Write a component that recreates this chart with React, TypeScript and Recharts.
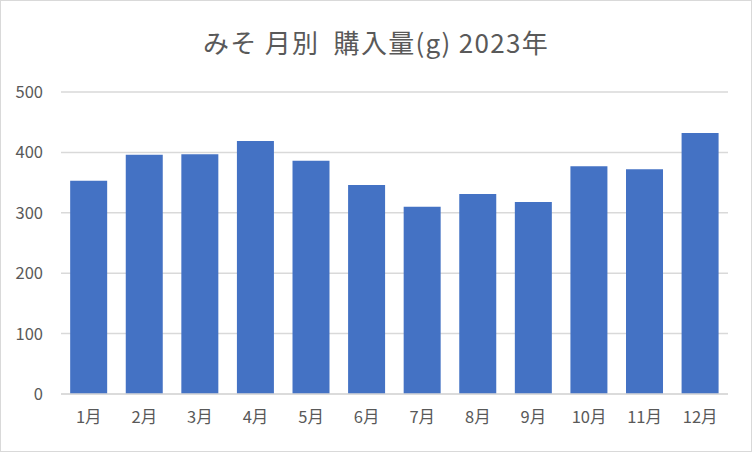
import React from 'react';
import { BarChart, Bar, XAxis, YAxis, CartesianGrid } from 'recharts';

const months = ['1月', '2月', '3月', '4月', '5月', '6月', '7月', '8月', '9月', '10月', '11月', '12月'];
const amounts = [353, 396, 397, 419, 386, 346, 310, 331, 318, 377, 372, 432];
const yTicks = [0, 100, 200, 300, 400, 500];

const data = months.map((m, i) => ({ month: m, value: amounts[i] }));

const FONT = '"Noto Sans CJK JP", "Noto Sans", sans-serif';

const XTick = (props: any) => {
  const { x, y, payload } = props;
  return (
    <text x={x} y={y + 27} textAnchor="middle" fill="#595959" fontSize={16.5} fontFamily={FONT}>
      {payload.value}
    </text>
  );
};

const YTick = (props: any) => {
  const { x, y, payload } = props;
  return (
    <text x={x - 16} y={y + 6} textAnchor="end" fill="#595959" fontSize={16.5} fontFamily={FONT}>
      {payload.value}
    </text>
  );
};

export default function App() {
  return (
    <div
      style={{
        position: 'absolute',
        left: 0,
        top: 0,
        width: 752,
        height: 452,
        boxSizing: 'border-box',
        border: '1px solid #d9d9d9',
        background: '#fff',
        fontFamily: FONT,
      }}
    >
      <div
        style={{
          position: 'absolute',
          top: 24,
          left: 0,
          width: 750,
          textAlign: 'center',
          fontSize: 26,
          lineHeight: '34px',
          letterSpacing: '1.3px',
          color: '#595959',
          whiteSpace: 'pre',
        }}
      >
        {'みそ 月別  購入量(g) 2023年'}
      </div>
      <BarChart
        width={750}
        height={450}
        data={data}
        margin={{ top: 91, right: 23, bottom: 0, left: 0 }}
        barCategoryGap="16.5%"
      >
        <CartesianGrid horizontal vertical={false} stroke="#d9d9d9" strokeWidth={1.5} />
        <XAxis
          dataKey="month"
          height={57}
          tickLine={false}
          tickSize={0}
          axisLine={{ stroke: '#d9d9d9', strokeWidth: 1.5 }}
          tick={<XTick />}
        />
        <YAxis
          width={60}
          domain={[0, 500]}
          ticks={yTicks}
          axisLine={false}
          tickLine={false}
          tickSize={0}
          tick={<YTick />}
        />
        <Bar dataKey="value" fill="#4472c4" isAnimationActive={false} />
      </BarChart>
    </div>
  );
}
